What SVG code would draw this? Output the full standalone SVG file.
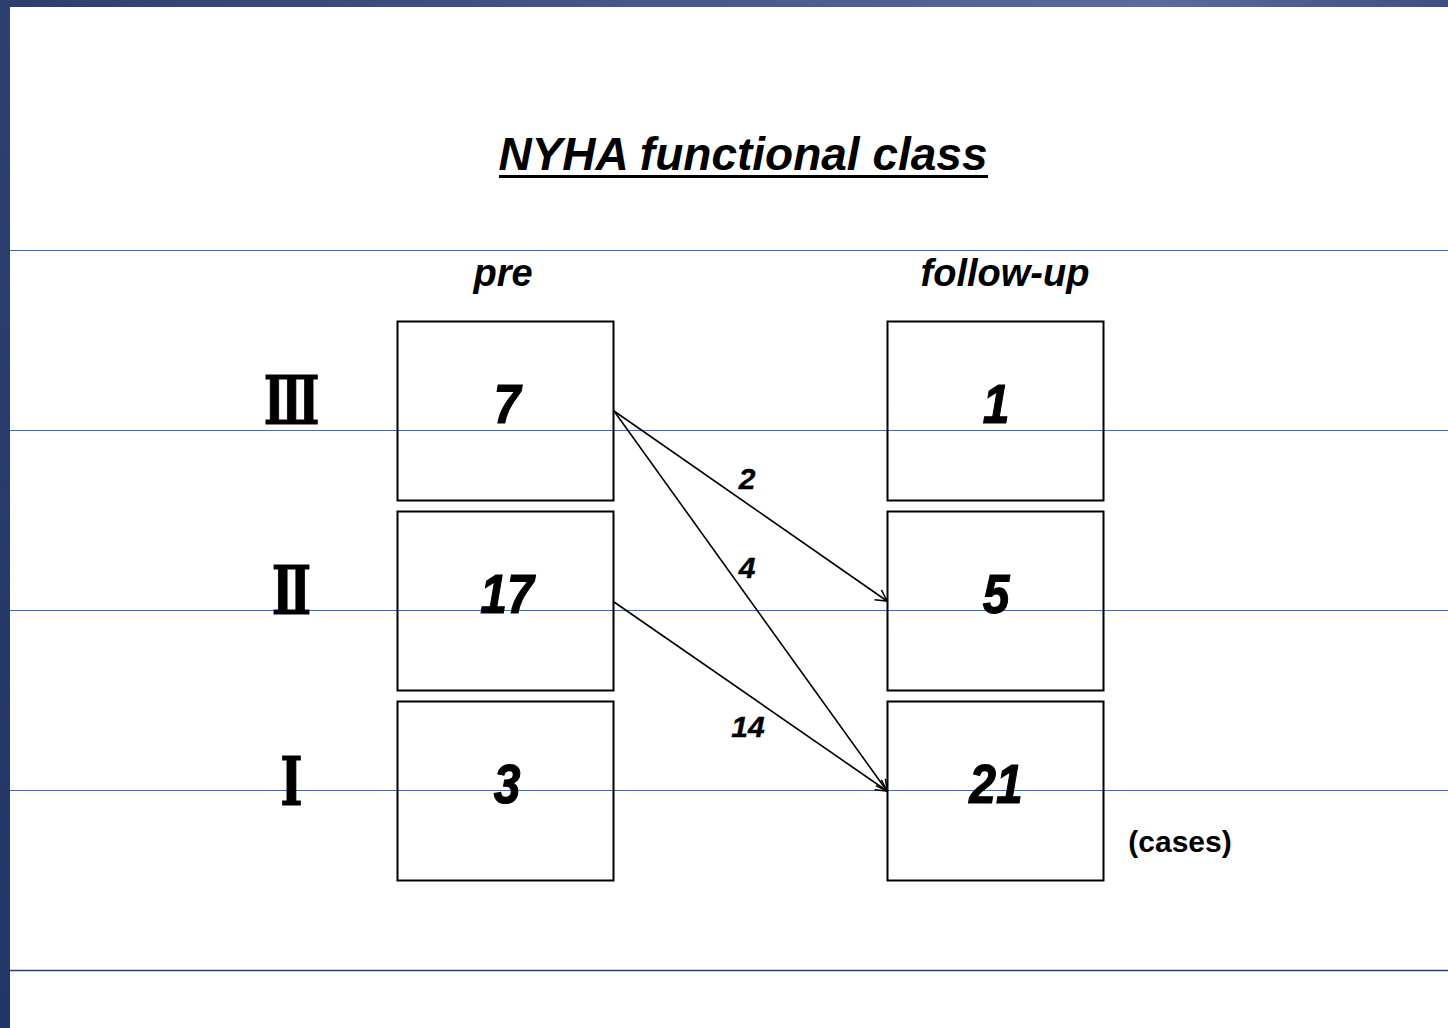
<svg xmlns="http://www.w3.org/2000/svg" width="1448" height="1028" viewBox="0 0 1448 1028">
  <defs>
    <linearGradient id="topBar" x1="0" y1="0" x2="1" y2="0">
      <stop offset="0" stop-color="#2c3e6c"/>
      <stop offset="0.8" stop-color="#5a6c9c"/>
      <stop offset="1" stop-color="#3e5080"/>
    </linearGradient>
    <linearGradient id="sideBar" x1="0" y1="0" x2="0" y2="1">
      <stop offset="0" stop-color="#2e4070"/>
      <stop offset="1" stop-color="#213566"/>
    </linearGradient>
    <marker id="arrow" markerWidth="14" markerHeight="14" refX="12" refY="7" orient="auto" markerUnits="userSpaceOnUse">
      <path d="M1,1 L12,7 L1,13" fill="none" stroke="#000" stroke-width="1.5"/>
    </marker>
    <style>
      .rule { stroke: #4a68a6; stroke-width: 1; }
      .box { fill: none; stroke: #000; stroke-width: 2; }
      .num { font-family: "Liberation Sans", Arial, sans-serif; font-weight: bold; font-style: italic; font-size: 48px; text-anchor: middle; stroke: #000; stroke-width: 1; }
      .head { font-family: "Liberation Sans", Arial, sans-serif; font-weight: bold; font-style: italic; font-size: 38px; text-anchor: middle; }
      .lbl { font-family: "Liberation Sans", Arial, sans-serif; font-weight: bold; font-style: italic; font-size: 30px; text-anchor: middle; stroke: #000; stroke-width: 0.4; }
      .roman { font-family: "DejaVu Serif", "Liberation Serif", serif; font-weight: bold; font-size: 52px; text-anchor: middle; stroke: #000; stroke-width: 0.8; }
      .edge { stroke: #000; stroke-width: 1.6; fill: none; marker-end: url(#arrow); }
    </style>
  </defs>

  <rect x="0" y="0" width="1448" height="1028" fill="#fff"/>
  <rect x="0" y="0" width="1448" height="7" fill="url(#topBar)"/>
  <rect x="0" y="0" width="10" height="1028" fill="url(#sideBar)"/>

  <!-- guide rules -->
  <g id="rules">
    <line class="rule" x1="10" y1="250.5" x2="1448" y2="250.5"/>
    <line class="rule" x1="10" y1="430.5" x2="1448" y2="430.5"/>
    <line class="rule" x1="10" y1="610.5" x2="1448" y2="610.5"/>
    <line class="rule" x1="10" y1="790.5" x2="1448" y2="790.5"/>
    <line x1="10" y1="970.5" x2="1448" y2="970.5" stroke="#2a3f70" stroke-width="1.5"/>
  </g>

  <!-- title -->
  <g id="title">
    <text x="743" y="170" font-family="Liberation Sans, Arial, sans-serif" font-weight="bold" font-style="italic" font-size="46" text-anchor="middle">NYHA functional class</text>
    <line x1="499" y1="176.5" x2="988" y2="176.5" stroke="#000" stroke-width="3"/>
  </g>

  <text class="head" x="503" y="286">pre</text>
  <text class="head" x="1005" y="286">follow-up</text>

  <!-- class labels -->
  <g id="class-3" transform="translate(291.5 424) scale(0.88 1.29)"><text class="roman" x="0" y="0">Ⅲ</text></g>
  <g id="class-2" transform="translate(291.5 614) scale(0.9 1.29)"><text class="roman" x="0" y="0">Ⅱ</text></g>
  <g id="class-1" transform="translate(291.5 805) scale(0.92 1.29)"><text class="roman" x="0" y="0">Ⅰ</text></g>

  <!-- pre boxes -->
  <g id="pre-3"><rect class="box" x="397.5" y="321.5" width="216" height="179"/><text class="num" transform="translate(507 423) scale(1 1.17)">7</text></g>
  <g id="pre-2"><rect class="box" x="397.5" y="511.5" width="216" height="179"/><text class="num" transform="translate(507 613) scale(1 1.17)">17</text></g>
  <g id="pre-1"><rect class="box" x="397.5" y="701.5" width="216" height="179"/><text class="num" transform="translate(507 803) scale(1 1.17)">3</text></g>

  <!-- follow-up boxes -->
  <g id="fu-3"><rect class="box" x="887.5" y="321.5" width="216" height="179"/><text class="num" transform="translate(996 423) scale(1 1.17)">1</text></g>
  <g id="fu-2"><rect class="box" x="887.5" y="511.5" width="216" height="179"/><text class="num" transform="translate(996 613) scale(1 1.17)">5</text></g>
  <g id="fu-1"><rect class="box" x="887.5" y="701.5" width="216" height="179"/><text class="num" transform="translate(996 803) scale(1 1.17)">21</text></g>

  <!-- transitions -->
  <g id="connectors">
    <line class="edge" x1="614" y1="411" x2="887" y2="601"/>
    <line class="edge" x1="614" y1="411" x2="887" y2="791"/>
    <line class="edge" x1="614" y1="602" x2="887" y2="791"/>
    <text class="lbl" x="747" y="489">2</text>
    <text class="lbl" x="747" y="578">4</text>
    <text class="lbl" x="748" y="737">14</text>
  </g>

  <text x="1180" y="852" font-family="Liberation Sans, Arial, sans-serif" font-weight="bold" font-size="30" text-anchor="middle">(cases)</text>
</svg>
